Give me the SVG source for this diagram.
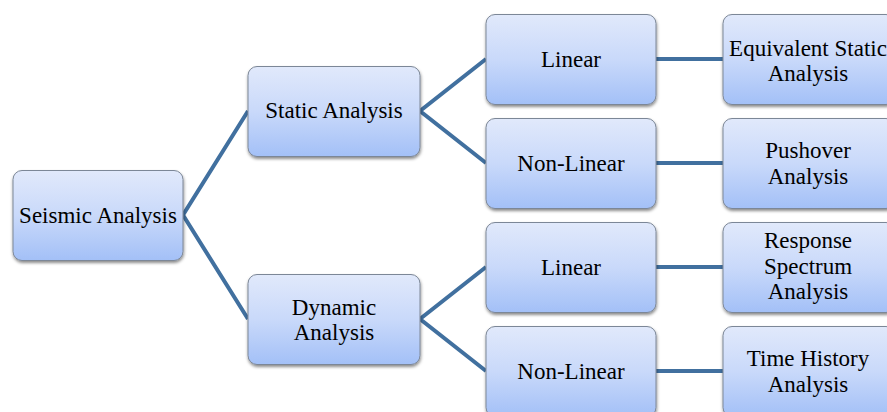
<svg xmlns="http://www.w3.org/2000/svg" width="887" height="412" viewBox="0 0 887 412">
<defs>
<linearGradient id="g" x1="0" y1="0" x2="0" y2="1">
<stop offset="0" stop-color="#e1e9fb"/>
<stop offset="0.5" stop-color="#c9d9fa"/>
<stop offset="1" stop-color="#a3c0f7"/>
</linearGradient>
<filter id="sh" x="-10%" y="-10%" width="120%" height="130%">
<feDropShadow dx="0.5" dy="2" stdDeviation="1.6" flood-color="#000" flood-opacity="0.45"/>
</filter>
</defs>
<style>
.box{fill:url(#g);stroke:#7c8797;stroke-width:1;filter:url(#sh)}
.t{font-size:23px;fill:#000;text-anchor:middle}
.c{stroke:#41709f;stroke-width:4;fill:none;stroke-linejoin:miter}
</style>
<rect width="887" height="412" fill="#fff"/>
<g id="connectors">
<polyline class="c" points="248,111 183,215 248,319"/>
<polyline class="c" points="486,59 420,111 486,163"/>
<polyline class="c" points="486,267 420,319 486,371"/>
<line class="c" x1="656" y1="59" x2="723" y2="59"/>
<line class="c" x1="656" y1="163" x2="723" y2="163"/>
<line class="c" x1="656" y1="267" x2="723" y2="267"/>
<line class="c" x1="656" y1="371" x2="723" y2="371"/>
</g>
<g font-family="Liberation Serif, Times New Roman, serif">
<g id="seismic">
<rect class="box" x="13" y="170.5" width="170" height="90" rx="9"/>
<text class="t" x="98" y="223">Seismic Analysis</text>
</g>
<g id="static">
<rect class="box" x="248" y="66.5" width="172" height="90" rx="9"/>
<text class="t" x="334" y="118">Static Analysis</text>
</g>
<g id="dynamic">
<rect class="box" x="248" y="274.5" width="172" height="90" rx="9"/>
<text class="t" x="334" y="315">Dynamic</text>
<text class="t" x="334" y="340">Analysis</text>
</g>
<g id="static-linear">
<rect class="box" x="486" y="14.5" width="170" height="90" rx="9"/>
<text class="t" x="571" y="67">Linear</text>
</g>
<g id="static-nonlinear">
<rect class="box" x="486" y="118.5" width="170" height="90" rx="9"/>
<text class="t" x="571" y="171">Non-Linear</text>
</g>
<g id="dynamic-linear">
<rect class="box" x="486" y="222.5" width="170" height="90" rx="9"/>
<text class="t" x="571" y="275">Linear</text>
</g>
<g id="dynamic-nonlinear">
<rect class="box" x="486" y="326.5" width="170" height="90" rx="9"/>
<text class="t" x="571" y="379">Non-Linear</text>
</g>
<g id="equivalent-static">
<rect class="box" x="723" y="14.5" width="172" height="90" rx="9"/>
<text class="t" x="808" y="56">Equivalent Static</text>
<text class="t" x="808" y="81">Analysis</text>
</g>
<g id="pushover">
<rect class="box" x="723" y="118.5" width="172" height="90" rx="9"/>
<text class="t" x="808" y="158">Pushover</text>
<text class="t" x="808" y="184">Analysis</text>
</g>
<g id="response-spectrum">
<rect class="box" x="723" y="222.5" width="172" height="90" rx="9"/>
<text class="t" x="808" y="248">Response</text>
<text class="t" x="808" y="274">Spectrum</text>
<text class="t" x="808" y="299">Analysis</text>
</g>
<g id="time-history">
<rect class="box" x="723" y="326.5" width="172" height="90" rx="9"/>
<text class="t" x="808" y="366">Time History</text>
<text class="t" x="808" y="392">Analysis</text>
</g>
</g>
</svg>
